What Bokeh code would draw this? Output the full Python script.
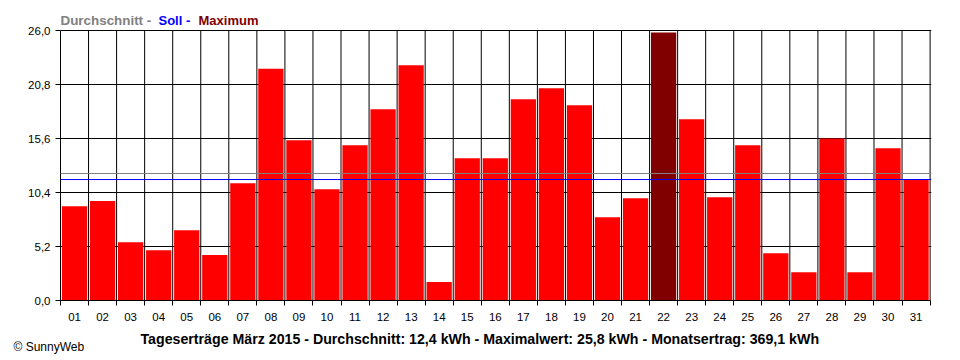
from bokeh.plotting import figure
from bokeh.models import ColumnDataSource, FixedTicker, Span, Label, CustomJSTickFormatter
from bokeh.embed import file_html
from bokeh.resources import INLINE

days = list(range(1, 32))
day_labels = [f"{d:02d}" for d in days]
energy = [9.08, 9.57, 5.62, 4.85, 6.77, 4.37, 11.30, 22.31, 15.44, 10.72,
          14.96, 18.42, 22.66, 1.77, 13.71, 13.71, 19.39, 20.45, 18.81, 8.02,
          9.85, 25.8, 17.46, 9.95, 14.96, 4.56, 2.73, 15.6, 2.73, 14.67, 11.65]
y_ticks = [0.0, 5.2, 10.4, 15.6, 20.8, 26.0]
avg_line = 12.23
soll_line = 11.65
caption = "Tageserträge März 2015 - Durchschnitt: 12,4 kWh - Maximalwert: 25,8 kWh - Monatsertrag: 369,1 kWh"

FONT = "Liberation Sans"
max_val = max(energy)
colors = ["#800000" if v == max_val else "#FF0000" for v in energy]
src = ColumnDataSource(data=dict(day=days, energy=energy, color=colors))
bounds = [d - 0.5 for d in days] + [days[-1] + 0.5]
y_top = y_ticks[-1]

# the frame reaches the top of the canvas so that the header legend can sit inside it
p = figure(width=960, height=360, x_range=(0.5, 31.55), y_range=(0, y_top * 300 / 270),
           output_backend="svg", toolbar_location=None,
           min_border_left=60, min_border_right=29, min_border_top=0, min_border_bottom=60)
p.title.visible = False
p.background_fill_color = "white"
p.border_fill_color = "white"
p.outline_line_color = None

# vertical grid lines between the days
p.segment(x0=bounds, y0=[0] * len(bounds), x1=bounds, y1=[y_top] * len(bounds),
          line_color="black", line_width=1)

p.vbar(x="day", top="energy", width=0.9, color="color", line_color=None, source=src)

p.add_layout(Span(location=avg_line, dimension="width", line_color="#808080", line_width=1))
p.add_layout(Span(location=soll_line, dimension="width", line_color="#0000FF", line_width=1))

p.xaxis.ticker = FixedTicker(ticks=days, minor_ticks=bounds)
p.xaxis.major_label_overrides = dict(zip(days, day_labels))
p.xaxis.major_tick_out = 0
p.xaxis.major_tick_in = 0
p.xaxis.minor_tick_out = 5
p.xaxis.minor_tick_in = 0
p.xaxis.major_label_standoff = 7
p.xaxis.axis_line_color = "black"
p.xaxis.bounds = (bounds[0], bounds[-1])

p.yaxis.ticker = FixedTicker(ticks=y_ticks)
p.yaxis.formatter = CustomJSTickFormatter(code="return tick.toFixed(1).replace('.', ',');")
p.yaxis.major_tick_out = 5
p.yaxis.major_tick_in = 0
p.yaxis.minor_tick_line_color = None
p.yaxis.major_label_standoff = 5
p.yaxis.bounds = (0, y_top)

for ax in (p.xaxis[0], p.yaxis[0]):
    ax.major_label_text_font = FONT
    ax.major_label_text_font_size = "11.5px"
    ax.major_label_text_color = "black"
    ax.major_tick_line_color = "black"
p.xaxis.minor_tick_line_color = "black"

p.xgrid.grid_line_color = None
p.ygrid.ticker = FixedTicker(ticks=y_ticks)
p.ygrid.grid_line_color = "black"

def lab(x, y, text, color, size, style, place=None):
    l = Label(x=x, y=y, x_units="screen", y_units="screen", text=text,
              text_color=color, text_font=FONT, text_font_size=size,
              text_font_style=style, text_baseline="alphabetic")
    if place:
        p.add_layout(l, place)
    else:
        p.add_layout(l)

lab(0, 280, "Durchschnitt -", "#808080", "13.4px", "bold")
lab(98, 280, "Soll -", "#0000FF", "13px", "bold")
lab(138, 280, "Maximum", "#800000", "13px", "bold")
lab(80, 1, caption, "black", "14.2px", "bold", "below")
lab(-47, 7, "© SunnyWeb", "black", "12px", "normal", "below")

open("out.html", "w").write(file_html(p, INLINE))
